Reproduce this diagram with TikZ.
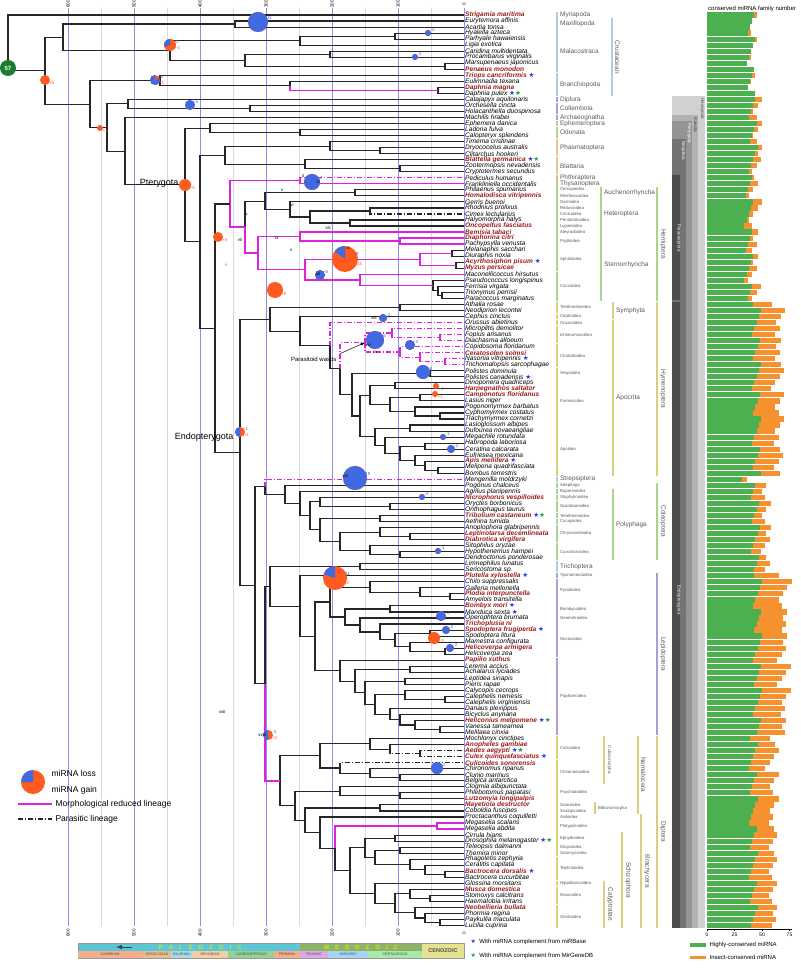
\documentclass[tikz,border=0pt]{standalone}
\usepackage{fontspec}
\setmainfont{Liberation Sans}
\newfontfamily\symf{DejaVu Sans}
\usetikzlibrary{calc}

\definecolor{lossblue}{HTML}{4169E1}
\definecolor{gainor}{HTML}{FF5A1F}
\definecolor{morphmag}{HTML}{DD22DD}
\definecolor{redsp}{HTML}{9B1B1B}
\definecolor{hcgreen}{HTML}{4CAF50}
\definecolor{icorange}{HTML}{F5922F}
\definecolor{gridpur}{HTML}{8E8EE6}
\definecolor{starblue}{HTML}{1F3FE0}
\definecolor{stargreen}{HTML}{1E9E3A}
\definecolor{cblue}{HTML}{A9CFE8}
\definecolor{cpurple}{HTML}{A0A0DE}
\definecolor{cviolet}{HTML}{B49EDC}
\definecolor{colive}{HTML}{B8CF94}
\definecolor{ctan}{HTML}{EEC68C}
\definecolor{ckhaki}{HTML}{CBC491}
\definecolor{cgreen}{HTML}{A6D58E}
\definecolor{cyellow}{HTML}{D8D17A}
\definecolor{clep}{HTML}{B09AD8}
\definecolor{paleo}{HTML}{5CC6D6}
\definecolor{meso}{HTML}{8DB366}
\definecolor{ceno}{HTML}{E6E290}
\definecolor{camb}{HTML}{F5AD8C}
\definecolor{ordo}{HTML}{E9BC8C}
\definecolor{silu}{HTML}{A8D8E2}
\definecolor{devo}{HTML}{F3CDA3}
\definecolor{carb}{HTML}{93D493}
\definecolor{perm}{HTML}{F5AD8C}
\definecolor{tria}{HTML}{DDAAE8}
\definecolor{jura}{HTML}{A8D4F2}
\definecolor{cret}{HTML}{A8E8A8}

\tikzset{
  br/.style={line width=1.1pt, black!85},
  morph/.style={line width=1.3pt, morphmag},
  para/.style={line width=1.1pt, black!85, dash pattern=on 5pt off 2pt on 1pt off 2pt},
  pm/.style={line width=1.3pt, morphmag, dash pattern=on 5pt off 2pt on 1pt off 2pt},
  sp/.style={font=\fontsize{6.6}{6.6}\selectfont\itshape, inner sep=1pt},
  rd/.style={font=\fontsize{6.6}{6.6}\selectfont\itshape\bfseries, text=redsp, inner sep=1pt},
  grid/.style={gridpur, line width=0.6pt},
  gridl/.style={black!15, line width=0.6pt},
  lossl/.style={font=\fontsize{4.5}{4.5}\selectfont, text=lossblue, inner sep=0.3pt},
  gainl/.style={font=\fontsize{4.5}{4.5}\selectfont, text=gainor, inner sep=0.3pt},
  catL/.style={anchor=west, font=\fontsize{6.5}{6.5}\selectfont, text=black!65, inner sep=0.5pt},
  catS/.style={anchor=west, font=\fontsize{4.3}{4.3}\selectfont, text=black!65, inner sep=0.5pt},
  catR/.style={anchor=south, rotate=-90, font=\fontsize{6.5}{6.5}\selectfont, text=black!65, inner sep=0.5pt},
  catRs/.style={anchor=south, rotate=-90, font=\fontsize{4.5}{4.5}\selectfont, text=black!65, inner sep=0.5pt},
  roman/.style={font=\fontsize{4.5}{4.5}\selectfont, inner sep=0.5pt},
  ticklab/.style={rotate=90, font=\fontsize{4.5}{4.5}\selectfont, inner sep=0.5pt},
  period/.style={font=\fontsize{3.6}{3.6}\selectfont, text=black!70, inner sep=0pt},
  era/.style={font=\fontsize{6}{6}\selectfont\bfseries, text=yellow!85!green, inner sep=0pt},
  legtxt/.style={font=\fontsize{6}{6}\selectfont, anchor=west, inner sep=0.5pt},
}

\newcommand\bst{{\symf\color{starblue}\upshape ★}}
\newcommand\gst{{\symf\color{stargreen}\upshape ★}}

% leaf: index, style, name
\newcommand\leaf[3]{%
  \pgfmathsetmacro\yy{-(15+6.03*(#1-1))}%
  \expandafter\xdef\csname ny@t#1\endcsname{\yy}%
  \node[#2, anchor=west] (t#1) at (464,\yy) {#3};}

% inner node: [style1][style2]{name}{x}{child1}{child2}
\NewDocumentCommand\inode{O{}O{}mmmm}{%
  \pgfmathsetmacro\yy{0.5*(\csname ny@#5\endcsname+\csname ny@#6\endcsname)}%
  \expandafter\xdef\csname ny@#3\endcsname{\yy}%
  \coordinate (#3) at (#4,\yy);
  \draw[br,#1] (#3) |- (#5);
  \draw[br,#2] (#3) |- (#6);}

% gain/loss pie: x, y(down), r, loss share, loss, gain
\newcommand\ev[6]{%
  \fill[gainor] (#1,-#2) circle (#3);
  \fill[lossblue] (#1,-#2) -- ++(90:#3) arc (90:{90+360*#4}:#3) -- cycle;
  \node[lossl, anchor=south west] at ({#1+#3*0.7},{-#2+#3*0.2}) {#5};
  \node[gainl, anchor=north west] at ({#1+#3*0.7},{-#2-#3*0.2}) {#6};}

% category bar: first, last, x, colour, text, style
\newcommand\cat[6]{%
  \pgfmathsetmacro\ya{\csname ny@t#1\endcsname+2.7}%
  \pgfmathsetmacro\yb{\csname ny@t#2\endcsname-2.7}%
  \fill[#4] (#3,\ya) rectangle ({#3+2.4},\yb);
  \node[#6] at ({#3+3.4},{(\ya+\yb)/2}) {#5};}

\begin{document}
\begin{tikzpicture}[x=1pt,y=1pt]
\useasboundingbox (0,0) rectangle (800,-968);

% time lines
\foreach \m in {50,150,...,550}
  \draw[gridl] ({464-0.66*\m},-8) -- ({464-0.66*\m},-926);
\foreach \m in {100,200,...,600}
  \draw[grid] ({464-0.66*\m},-8) -- ({464-0.66*\m},-926);
\draw[grid] (464,-8) -- (464,-926);
\foreach \m in {0,100,...,600}{
  \node[ticklab] at ({464-0.66*\m},-4) {\m};
  \node[ticklab] at ({464-0.66*\m},-933) {\m};}

% taxa
\leaf{1}{rd}{Strigamia maritima}
\leaf{2}{sp}{Eurytemora affinis}
\leaf{3}{sp}{Acartia tonsa}
\leaf{4}{sp}{Hyalella azteca}
\leaf{5}{sp}{Parhyale hawaiensis}
\leaf{6}{sp}{Ligia exotica}
\leaf{7}{sp}{Caridina multidentata}
\leaf{8}{sp}{Procambarus virginalis}
\leaf{9}{sp}{Marsupenaeus japonicus}
\leaf{10}{rd}{Penaeus monodon}
\leaf{11}{rd}{Triops cancriformis \bst}
\leaf{12}{sp}{Eulimnadia texana}
\leaf{13}{rd}{Daphnia magna}
\leaf{14}{sp}{Daphnia pulex \bst\gst}
\leaf{15}{sp}{Catajapyx aquilonaris}
\leaf{16}{sp}{Orchesella cincta}
\leaf{17}{sp}{Holacanthella duospinosa}
\leaf{18}{sp}{Machilis hrabei}
\leaf{19}{sp}{Ephemera danica}
\leaf{20}{sp}{Ladona fulva}
\leaf{21}{sp}{Calopteryx splendens}
\leaf{22}{sp}{Timema cristinae}
\leaf{23}{sp}{Dryococelus australis}
\leaf{24}{sp}{Clitarchus hookeri}
\leaf{25}{rd}{Blattella germanica \bst\gst}
\leaf{26}{sp}{Zootermopsis nevadensis}
\leaf{27}{sp}{Cryptotermes secundus}
\leaf{28}{sp}{Pediculus humanus}
\leaf{29}{sp}{Frankliniella occidentalis}
\leaf{30}{sp}{Philaenus spumarius}
\leaf{31}{rd}{Homalodisca vitripennis}
\leaf{32}{sp}{Gerris buenoi}
\leaf{33}{sp}{Rhodnius prolixus}
\leaf{34}{sp}{Cimex lectularius}
\leaf{35}{sp}{Halyomorpha halys}
\leaf{36}{rd}{Oncopeltus fasciatus}
\leaf{37}{rd}{Bemisia tabaci}
\leaf{38}{rd}{Diaphorina citri}
\leaf{39}{sp}{Pachypsylla venusta}
\leaf{40}{sp}{Melanaphis sacchari}
\leaf{41}{sp}{Diuraphis noxia}
\leaf{42}{rd}{Acyrthosiphon pisum \bst}
\leaf{43}{rd}{Myzus persicae}
\leaf{44}{sp}{Maconellicoccus hirsutus}
\leaf{45}{sp}{Pseudococcus longispinus}
\leaf{46}{sp}{Ferrisia virgata}
\leaf{47}{sp}{Trionymus perrisii}
\leaf{48}{sp}{Paracoccus marginatus}
\leaf{49}{sp}{Athalia rosae}
\leaf{50}{sp}{Neodiprion lecontei}
\leaf{51}{sp}{Cephus cinctus}
\leaf{52}{sp}{Orussus abietinus}
\leaf{53}{sp}{Microplitis demolitor}
\leaf{54}{sp}{Fopius arisanus}
\leaf{55}{sp}{Diachasma alloeum}
\leaf{56}{sp}{Copidosoma floridanum}
\leaf{57}{rd}{Ceratosolen solmsi}
\leaf{58}{sp}{Nasonia vitripennis \bst}
\leaf{59}{sp}{Trichomalopsis sarcophagae}
\leaf{60}{sp}{Polistes dominula}
\leaf{61}{sp}{Polistes canadensis \bst}
\leaf{62}{sp}{Dinoponera quadriceps}
\leaf{63}{rd}{Harpegnathos saltator}
\leaf{64}{rd}{Camponotus floridanus}
\leaf{65}{sp}{Lasius niger}
\leaf{66}{sp}{Pogonomyrmex barbatus}
\leaf{67}{sp}{Cyphomyrmex costatus}
\leaf{68}{sp}{Trachymyrmex cornetzi}
\leaf{69}{sp}{Lasioglossum albipes}
\leaf{70}{sp}{Dufourea novaeangliae}
\leaf{71}{sp}{Megachile rotundata}
\leaf{72}{sp}{Habropoda laboriosa}
\leaf{73}{sp}{Ceratina calcarata}
\leaf{74}{sp}{Eufriesea mexicana}
\leaf{75}{rd}{Apis mellifera \bst}
\leaf{76}{sp}{Melipona quadrifasciata}
\leaf{77}{sp}{Bombus terrestris}
\leaf{78}{sp}{Mengenilla moldrzyki}
\leaf{79}{sp}{Pogonus chalceus}
\leaf{80}{sp}{Agrilus planipennis}
\leaf{81}{rd}{Nicrophorus vespilloides}
\leaf{82}{sp}{Oryctes borbonicus}
\leaf{83}{sp}{Onthophagus taurus}
\leaf{84}{rd}{Tribolium castaneum \bst\gst}
\leaf{85}{sp}{Aethina tumida}
\leaf{86}{sp}{Anoplophora glabripennis}
\leaf{87}{rd}{Leptinotarsa decemlineata}
\leaf{88}{rd}{Diabrotica virgifera}
\leaf{89}{sp}{Sitophilus oryzae}
\leaf{90}{sp}{Hypothenemus hampei}
\leaf{91}{sp}{Dendroctonus ponderosae}
\leaf{92}{sp}{Limnephilus lunatus}
\leaf{93}{sp}{Sericostoma sp.}
\leaf{94}{rd}{Plutella xylostella \bst}
\leaf{95}{sp}{Chilo suppressalis}
\leaf{96}{sp}{Galleria mellonella}
\leaf{97}{rd}{Plodia interpunctella}
\leaf{98}{sp}{Amyelois transitella}
\leaf{99}{rd}{Bombyx mori \bst}
\leaf{100}{sp}{Manduca sexta \bst}
\leaf{101}{sp}{Operophtera brumata}
\leaf{102}{rd}{Trichoplusia ni}
\leaf{103}{rd}{Spodoptera frugiperda \bst}
\leaf{104}{sp}{Spodoptera litura}
\leaf{105}{sp}{Mamestra configurata}
\leaf{106}{rd}{Helicoverpa armigera}
\leaf{107}{sp}{Helicoverpa zea}
\leaf{108}{rd}{Papilio xuthus}
\leaf{109}{sp}{Lerema accius}
\leaf{110}{sp}{Achalarus lyciades}
\leaf{111}{sp}{Leptidea sinapis}
\leaf{112}{sp}{Pieris rapae}
\leaf{113}{sp}{Calycopis cecrops}
\leaf{114}{sp}{Calephelis nemesis}
\leaf{115}{sp}{Calephelis virginiensis}
\leaf{116}{sp}{Danaus plexippus}
\leaf{117}{sp}{Bicyclus anynana}
\leaf{118}{rd}{Heliconius melpomene \bst\gst}
\leaf{119}{sp}{Vanessa tameamea}
\leaf{120}{sp}{Melitaea cinxia}
\leaf{121}{sp}{Mochlonyx cinctipes}
\leaf{122}{rd}{Anopheles gambiae}
\leaf{123}{rd}{Aedes aegypti \bst\gst}
\leaf{124}{rd}{Culex quinquefasciatus \bst}
\leaf{125}{rd}{Culicoides sonorensis}
\leaf{126}{sp}{Chironomus riparius}
\leaf{127}{sp}{Clunio marinus}
\leaf{128}{sp}{Belgica antarctica}
\leaf{129}{sp}{Clogmia albipunctata}
\leaf{130}{sp}{Phlebotomus papatasi}
\leaf{131}{rd}{Lutzomyia longipalpis}
\leaf{132}{rd}{Mayetiola destructor}
\leaf{133}{sp}{Coboldia fuscipes}
\leaf{134}{sp}{Proctacanthus coquilletti}
\leaf{135}{sp}{Megaselia scalaris}
\leaf{136}{sp}{Megaselia abdita}
\leaf{137}{sp}{Cirrula hians}
\leaf{138}{sp}{Drosophila melanogaster \bst\gst}
\leaf{139}{sp}{Teleopsis dalmanni}
\leaf{140}{sp}{Themira minor}
\leaf{141}{sp}{Rhagoletis zephyria}
\leaf{142}{sp}{Ceratitis capitata}
\leaf{143}{rd}{Bactrocera dorsalis \bst}
\leaf{144}{sp}{Bactrocera cucurbitae}
\leaf{145}{sp}{Glossina morsitans}
\leaf{146}{rd}{Musca domestica}
\leaf{147}{sp}{Stomoxys calcitrans}
\leaf{148}{sp}{Haematobia irritans}
\leaf{149}{rd}{Neobellieria bullata}
\leaf{150}{sp}{Phormia regina}
\leaf{151}{sp}{Paykullia maculata}
\leaf{152}{sp}{Lucilia cuprina}

% crustaceans
\inode{pen}{445}{t9}{t10}
\inode{dec2}{330}{t7}{t8}
\inode{dec}{245}{dec2}{pen}
\inode{amp}{395}{t4}{t5}
\inode{per}{300}{amp}{t6}
\inode{mal}{170}{per}{dec}
\inode{cop}{235}{t2}{t3}
\inode{mcr}{63}{cop}{mal}
\inode{dap}{438}{t13}{t14}
\inode[][morph]{dip}{290}{t12}{dap}
\inode{bra}{160}{t11}{dip}
% basal hexapods and polyneoptera
\inode{col}{250}{t16}{t17}
\inode{ent}{128}{t15}{col}
\inode{odo}{300}{t20}{t21}
\inode{pal}{210}{t19}{odo}
\inode{pha2}{380}{t23}{t24}
\inode{pha}{330}{t22}{pha2}
\inode{ter}{400}{t26}{t27}
\inode{bla}{305}{t25}{ter}
\inode{pol}{225}{pha}{bla}
% paraneoptera
\inode[pm][morph]{psth}{300}{t28}{t29}
\inode{auc}{355}{t30}{t31}
\inode[][para]{cim}{370}{t33}{t34}
\inode{pen2}{350}{t35}{t36}
\inode{het2}{310}{cim}{pen2}
\inode{het}{290}{t32}{het2}
\inode{euh}{265}{auc}{het}
\inode[morph][morph]{psy}{400}{t38}{t39}
\inode[morph][morph]{alp}{300}{t37}{psy}
\inode{aph1}{452}{t40}{t41}
\inode{aph2}{456}{t42}{t43}
\inode[morph][morph]{aph}{420}{aph1}{aph2}
\inode{coc4}{442}{t47}{t48}
\inode{coc3}{438}{t46}{coc4}
\inode{coc2}{433}{t45}{coc3}
\inode[morph][morph]{coc}{360}{t44}{coc2}
\inode[morph][morph]{apc}{305}{aph}{coc}
\inode[morph][morph]{ste}{258}{alp}{apc}
\inode[][morph]{hem}{245}{euh}{ste}
\inode[morph][morph]{par}{230}{psth}{hem}
% hymenoptera
\inode{ten}{400}{t49}{t50}
\inode[pm][pm]{ich2}{440}{t54}{t55}
\inode[pm][pm]{ich}{392}{t53}{ich2}
\inode[pm][pm]{cha3}{445}{t58}{t59}
\inode[pm][pm]{cha2}{420}{t57}{cha3}
\inode[pm][pm]{cha}{400}{t56}{cha2}
\inode[pm][pm]{prs}{365}{ich}{cha}
\inode{ves}{430}{t60}{t61}
\inode{pon}{395}{t62}{t63}
\inode{frm}{420}{t64}{t65}
\inode{myr2}{440}{t67}{t68}
\inode{myr}{415}{t66}{myr2}
\inode{fm}{390}{frm}{myr}
\inode{ant}{370}{pon}{fm}
\inode{hal}{410}{t69}{t70}
\inode{api1}{425}{t72}{t73}
\inode{cor2}{438}{t76}{t77}
\inode{cor1}{425}{t75}{cor2}
\inode{cor}{415}{t74}{cor1}
\inode{apd}{400}{api1}{cor}
\inode{meg}{385}{t71}{apd}
\inode{bee}{375}{hal}{meg}
\inode{ab}{360}{ant}{bee}
\inode{acu}{352}{ves}{ab}
\inode[pm]{apo}{340}{prs}{acu}
\inode[pm]{ves0}{330}{t52}{apo}
\inode{uni}{300}{t51}{ves0}
\inode{hym}{270}{ten}{uni}
% coleopterida
\inode{sca}{390}{t82}{t83}
\inode{sta}{320}{t81}{sca}
\inode{cuc}{380}{t84}{t85}
\inode{chr2}{410}{t87}{t88}
\inode{chr}{380}{t86}{chr2}
\inode{cur2}{400}{t90}{t91}
\inode{cur}{370}{t89}{cur2}
\inode{phy}{340}{chr}{cur}
\inode{cuj}{320}{cuc}{phy}
\inode{ely}{310}{sta}{cuj}
\inode{pol2}{300}{t80}{ely}
\inode{cole}{285}{t79}{pol2}
\inode[pm]{cold}{265}{t78}{cole}
% amphiesmenoptera
\inode{tri}{360}{t92}{t93}
\inode{pyr2}{450}{t97}{t98}
\inode{pyr1}{420}{t96}{pyr2}
\inode{pyr}{370}{t95}{pyr1}
\inode{bom}{390}{t99}{t100}
\inode{hel}{445}{t106}{t107}
\inode{noc3}{410}{t105}{hel}
\inode{spo}{430}{t103}{t104}
\inode{noc2}{395}{spo}{noc3}
\inode{noc}{380}{t102}{noc2}
\inode{geo}{360}{t101}{noc}
\inode{mac}{345}{bom}{geo}
\inode{obt}{330}{pyr}{mac}
\inode{hes}{410}{t109}{t110}
\inode{pie}{405}{t111}{t112}
\inode{rio}{445}{t114}{t115}
\inode{lyc}{405}{t113}{rio}
\inode{nym3}{440}{t119}{t120}
\inode{nym2}{415}{t118}{nym3}
\inode{nym1}{400}{t117}{nym2}
\inode{nym}{390}{t116}{nym1}
\inode{ln}{375}{lyc}{nym}
\inode{pln}{365}{pie}{ln}
\inode{hpl}{355}{hes}{pln}
\inode{pap}{340}{t108}{hpl}
\inode{ditr}{315}{obt}{pap}
\inode{lep}{300}{t94}{ditr}
\inode{amph}{270}{tri}{lep}
% diptera
\inode[para][para]{cul3}{420}{t123}{t124}
\inode[][para]{cul2}{390}{t122}{cul3}
\inode{cul}{370}{t121}{cul2}
\inode{chi2}{400}{t127}{t128}
\inode{chi1}{370}{t126}{chi2}
\inode[para]{chi}{340}{t125}{chi1}
\inode{culm}{320}{cul}{chi}
\inode{psy2}{400}{t130}{t131}
\inode{psd}{340}{t129}{psy2}
\inode{bib}{380}{t132}{t133}
\inode[morph][morph]{phor}{437}{t135}{t136}
\inode{ephy}{395}{t137}{t138}
\inode{dio}{400}{t139}{t140}
\inode{tep2}{445}{t143}{t144}
\inode{tep1}{425}{t142}{tep2}
\inode{tep}{410}{t141}{tep1}
\inode{dt}{375}{dio}{tep}
\inode{aca}{365}{ephy}{dt}
\inode{mus2}{430}{t147}{t148}
\inode{mus}{410}{t146}{mus2}
\inode{oes3}{440}{t151}{t152}
\inode{oes2}{425}{t150}{oes3}
\inode{oes}{415}{t149}{oes2}
\inode{mo}{395}{mus}{oes}
\inode{cal}{375}{t145}{mo}
\inode{sch}{350}{aca}{cal}
\inode[morph]{ere}{335}{phor}{sch}
\inode{bra2}{320}{t134}{ere}
\inode{bb}{305}{bib}{bra2}
\inode{pbb}{295}{psd}{bb}
\inode{dipt}{280}{culm}{pbb}
% backbone
\inode[][morph]{mec}{265}{amph}{dipt}
\inode{apa}{255}{cold}{mec}
\inode{hol}{240}{hym}{apa}
\inode{eum}{215}{par}{hol}
\inode{neo}{200}{pol}{eum}
\inode{pte}{185}{pal}{neo}
\inode{ins}{125}{t18}{pte}
\inode{hex}{107}{ent}{ins}
\inode{all}{90}{bra}{hex}
\inode{pan}{45}{mcr}{all}
\inode{root}{8}{t1}{pan}

% gains and losses
\fill[stargreen!80!black] (8,-68) circle (8);
\node[font=\fontsize{6}{6}\selectfont\bfseries, text=white] (rootn) at (8,-68) {57};
\ev{45}{80}{5}{0}{}{+5}
\ev{258}{22}{10}{1}{-11}{}
\ev{170}{45}{6}{0.3}{-2}{+4}
\ev{428}{33}{3}{1}{-2}{}
\ev{415}{57}{3}{1}{-2}{}
\ev{155}{80}{5}{0.8}{-5}{+1}
\ev{190}{105}{5}{1}{-5}{}
\ev{100}{128}{3}{0}{}{+1}
\ev{185}{185}{6}{0}{}{+5}
\ev{312}{182}{8}{1}{-3}{}
\ev{218}{237}{5}{0}{}{+3}
\ev{345}{259}{13}{0.15}{-3}{+15}
\ev{320}{275}{5}{1}{-6}{}
\ev{275}{290}{8}{0}{}{+9}
\ev{383}{318}{4}{1}{-1}{}
\ev{375}{340}{9}{1}{-6}{}
\ev{410}{345}{5}{1}{-3}{}
\ev{423}{372}{7}{1}{-8}{}
\ev{436}{386}{3}{0}{}{+1}
\ev{435}{394}{3}{0}{}{+1}
\ev{443}{437}{3}{1}{-1}{}
\ev{451}{449}{4}{1}{-2}{}
\ev{240}{432}{5}{0.5}{-1}{+1}
\ev{355}{478}{12}{1}{-19}{}
\ev{422}{497}{3}{1}{-2}{}
\ev{438}{551}{3}{1}{-1}{}
\ev{335}{578}{12}{0.2}{-11}{+2}
\ev{441}{616}{5}{1}{-3}{}
\ev{434}{638}{6}{0}{}{+3}
\ev{446}{630}{4}{1}{-2}{}
\ev{450}{648}{4}{1}{-2}{}
\ev{268}{735}{5}{0.5}{-3}{+2}
\ev{437}{768}{6}{1}{-2}{}

% lineage numbers
\node[roman] at (226,-265) {i};
\node[roman] at (303,-176) {ii};
\node[roman] at (318,-182) {iii};
\node[roman] at (246,-214) {iv};
\node[roman] at (282,-190) {v};
\node[roman] at (292,-205) {vi};
\node[roman] at (240,-240) {vii};
\node[roman] at (328,-228) {viii};
\node[roman] at (277,-238) {ix};
\node[roman] at (291,-250) {x};
\node[roman] at (348,-248) {xi};
\node[roman] at (318,-274) {xii};
\node[roman] at (374,-318) {xiii};
\node[roman] at (368,-345) {xiv};
\node[roman] at (375,-352) {xv};
\node[roman] at (345,-476) {xvi};
\node[roman] at (222,-712) {xvii};
\node[roman] at (262,-735) {xviii};

% clade labels
\node[font=\fontsize{9}{9}\selectfont, anchor=east] (ptl) at (182,-183) {Pterygota};
\node[font=\fontsize{9}{9}\selectfont, anchor=east] (enl) at (237,-437) {Endopterygota};
\node[font=\fontsize{6}{6}\selectfont, anchor=east] (pw) at (340,-360) {Parasitoid wasps};
\draw[-latex, line width=0.5pt] (pw.north east) -- (prs);

% right side groups
\cat{1}{1}{556}{cblue}{Myriapoda}{catL}
\cat{2}{3}{556}{cblue}{Maxillopoda}{catL}
\cat{4}{10}{556}{cblue}{Malacostraca}{catL}
\cat{11}{14}{556}{cblue}{Branchiopoda}{catL}
\cat{15}{15}{556}{cpurple}{Diplura}{catL}
\cat{16}{17}{556}{cpurple}{Collembola}{catL}
\cat{18}{18}{556}{cviolet}{Archaeognatha}{catL}
\cat{19}{19}{556}{colive}{Ephemeroptera}{catL}
\cat{20}{21}{556}{colive}{Odonata}{catL}
\cat{22}{24}{556}{ctan}{Phasmatoptera}{catL}
\cat{25}{27}{556}{ctan}{Blattaria}{catL}
\cat{28}{28}{556}{ckhaki}{Phthiraptera}{catL}
\cat{29}{29}{556}{ckhaki}{Thysanoptera}{catL}
\cat{30}{30}{556}{cgreen}{Cercopoidea}{catS}
\cat{31}{31}{556}{cgreen}{Membracoidea}{catS}
\cat{32}{32}{556}{cgreen}{Gerroidea}{catS}
\cat{33}{33}{556}{cgreen}{Reduvioidea}{catS}
\cat{34}{34}{556}{cgreen}{Cimicoidea}{catS}
\cat{35}{35}{556}{cgreen}{Pentatomoidea}{catS}
\cat{36}{36}{556}{cgreen}{Lygaeoidea}{catS}
\cat{37}{37}{556}{cgreen}{Aleyrodoidea}{catS}
\cat{38}{39}{556}{cgreen}{Psylloidea}{catS}
\cat{40}{43}{556}{cgreen}{Aphidoidea}{catS}
\cat{44}{48}{556}{cgreen}{Coccoidea}{catS}
\cat{49}{50}{556}{cyellow}{Tenthredinoidea}{catS}
\cat{51}{51}{556}{cyellow}{Cephoidea}{catS}
\cat{52}{52}{556}{cyellow}{Orussoidea}{catS}
\cat{53}{55}{556}{cyellow}{Ichneumonoidea}{catS}
\cat{56}{59}{556}{cyellow}{Chalcidoidea}{catS}
\cat{60}{61}{556}{cyellow}{Vespoidea}{catS}
\cat{62}{68}{556}{cyellow}{Formicoidea}{catS}
\cat{69}{77}{556}{cyellow}{Apoidea}{catS}
\cat{78}{78}{556}{cblue}{Strepsiptera}{catL}
\cat{79}{79}{556}{cgreen}{Adephaga}{catS}
\cat{80}{80}{556}{cgreen}{Buprestoidea}{catS}
\cat{81}{81}{556}{cgreen}{Staphylinoidea}{catS}
\cat{82}{83}{556}{cgreen}{Scarabaeoidea}{catS}
\cat{84}{84}{556}{cgreen}{Tenebrionoidea}{catS}
\cat{85}{85}{556}{cgreen}{Cucujoidea}{catS}
\cat{86}{88}{556}{cgreen}{Chrysomeloidea}{catS}
\cat{89}{91}{556}{cgreen}{Curculionoidea}{catS}
\cat{92}{93}{556}{cblue}{Trichoptera}{catL}
\cat{94}{94}{556}{clep}{Yponomeutoidea}{catS}
\cat{95}{98}{556}{clep}{Pyraloidea}{catS}
\cat{99}{100}{556}{clep}{Bombycoidea}{catS}
\cat{101}{101}{556}{clep}{Geometroidea}{catS}
\cat{102}{107}{556}{clep}{Noctuoidea}{catS}
\cat{108}{120}{556}{clep}{Papilionoidea}{catS}
\cat{121}{124}{556}{cyellow}{Culicoidea}{catS}
\cat{125}{128}{556}{cyellow}{Chironomoidea}{catS}
\cat{129}{131}{556}{cyellow}{Psychodoidea}{catS}
\cat{132}{132}{556}{cyellow}{Sciaroidea}{catS}
\cat{133}{133}{556}{cyellow}{Scatopsoidea}{catS}
\cat{134}{134}{556}{cyellow}{Asiloidea}{catS}
\cat{135}{136}{556}{cyellow}{Platypezoidea}{catS}
\cat{137}{138}{556}{cyellow}{Ephydroidea}{catS}
\cat{139}{139}{556}{cyellow}{Diopsoidea}{catS}
\cat{140}{140}{556}{cyellow}{Sciomyzoidea}{catS}
\cat{141}{144}{556}{cyellow}{Tephritoidea}{catS}
\cat{145}{145}{556}{cyellow}{Hippoboscoidea}{catS}
\cat{146}{148}{556}{cyellow}{Muscoidea}{catS}
\cat{149}{152}{556}{cyellow}{Oestroidea}{catS}
% second and third columns
\cat{2}{14}{611}{cblue}{Crustacean}{catR}
\cat{30}{31}{600}{cgreen}{Auchenorrhyncha}{catL}
\cat{32}{36}{600}{cgreen}{Heteroptera}{catL}
\cat{37}{48}{600}{cgreen}{Sternorrhyncha}{catL}
\cat{49}{51}{612}{cyellow}{Symphyta}{catL}
\cat{52}{77}{612}{cyellow}{Apocrita}{catL}
\cat{80}{91}{612}{cgreen}{Polyphaga}{catL}
\cat{121}{128}{603}{cyellow}{Culicomorpha}{catRs}
\cat{132}{133}{594}{cyellow}{Bibionomorpha}{catS}
\cat{137}{152}{621}{cyellow}{Schizophora}{catR}
\cat{145}{152}{603}{cyellow}{Calyptratae}{catR}
\cat{121}{133}{637}{cyellow}{Nematocera}{catR}
\cat{134}{152}{640}{cyellow}{Brachycera}{catR}
\cat{30}{48}{656}{cgreen}{Hemiptera}{catR}
\cat{49}{77}{656}{cyellow}{Hymenoptera}{catR}
\cat{79}{91}{656}{cgreen}{Coleoptera}{catR}
\cat{94}{120}{656}{clep}{Lepidoptera}{catR}
\cat{121}{152}{656}{cyellow}{Diptera}{catR}

% grey rank columns
\fill[black!18] (672,-96) rectangle (705,-928);
\fill[black!30] (672,-115) rectangle (698,-928);
\fill[black!42] (672,-121) rectangle (692,-928);
\fill[black!55] (672,-139) rectangle (686,-928);
\fill[black!70] (672,-175) rectangle (680,-300);
\fill[black!70] (672,-302) rectangle (680,-928);
\node[catRs, text=black!70, anchor=north west] at (705,-98) {Hexapoda};
\node[catRs, text=black!75, anchor=north west] at (698,-117) {Insecta};
\node[catRs, text=white, anchor=north west] at (692,-123) {Pterygota};
\node[catRs, text=white, anchor=north west] at (686,-141) {Neoptera};
\node[catRs, text=white] at (676,-238) {Paraneoptera};
\node[catRs, text=white] at (676,-600) {Endopterygota};

% miRNA bars
\node[font=\fontsize{6}{6}\selectfont] (bt) at (752,-9) {conserved miRNA family number};
\foreach \i in {1,...,152}{
  \pgfmathsetmacro\by{\csname ny@t\i\endcsname}
  \pgfmathsetmacro\hc{((\i<15)?40:((\i<28)?42:((\i<49)?38:((\i<78)?45:((\i<79)?30:((\i<94)?44:((\i<121)?46:42)))))))+mod(\i*7,9)-4}
  \pgfmathsetmacro\ic{max(0,((\i<15)?0:((\i<28)?4:((\i<49)?5:((\i<78)?20:((\i<79)?2:((\i<94)?10:((\i<121)?24:18)))))))+mod(\i*5,7)-3)}
  \fill[hcgreen] (707,\by-2.6) rectangle ++({\hc*1.1},5.2);
  \fill[icorange] ({707+\hc*1.1},\by-2.6) rectangle ++({\ic*1.1},5.2);
}
\draw[line width=0.5pt] (707,-929) -- (792,-929);
\foreach \v in {0,25,50,75}{
  \draw[line width=0.5pt] ({707+1.1*\v},-929) -- ++(0,-2);
  \node[font=\fontsize{5}{5}\selectfont, inner sep=0.5pt] at ({707+1.1*\v},-934.5) {\v};}

% time scale
\fill[paleo] (78,-943) rectangle (300,-951);
\fill[meso] (300,-943) rectangle (422,-951);
\fill[ceno] (422,-943) rectangle (464,-958);
\draw[black!40, line width=0.3pt] (78,-943) rectangle (464,-958);
\node[era] at (200,-947) {P\quad A\quad L\quad E\quad O\quad Z\quad O\quad I\quad C};
\node[era] at (361,-947) {M\quad E\quad S\quad O\quad Z\quad O\quad I\quad C};
\node[font=\fontsize{5.5}{5.5}\selectfont\bfseries, text=black!70] at (443,-950.5) {CENOZOIC};
\draw[-latex, line width=1pt, black!75] (132,-947) -- (116,-947);
\fill[camb] (78,-951) rectangle (143,-958);
\fill[ordo] (143,-951) rectangle (171,-958);
\fill[silu] (171,-951) rectangle (192,-958);
\fill[devo] (192,-951) rectangle (228,-958);
\fill[carb] (228,-951) rectangle (274,-958);
\fill[perm] (274,-951) rectangle (300,-958);
\fill[tria] (300,-951) rectangle (328,-958);
\fill[jura] (328,-951) rectangle (368,-958);
\fill[cret] (368,-951) rectangle (422,-958);
\node[period] at (110,-954.5) {CAMBRIAN};
\node[period] at (157,-954.5) {ORDOVICIAN};
\node[period] at (181.5,-954.5) {SILURIAN};
\node[period] at (210,-954.5) {DEVONIAN};
\node[period] at (251,-954.5) {CARBONIFEROUS};
\node[period] at (287,-954.5) {PERMIAN};
\node[period] at (314,-954.5) {TRIASSIC};
\node[period] at (348,-954.5) {JURASSIC};
\node[period] at (395,-954.5) {CRETACEOUS};

% legends
\fill[gainor] (33,-782) circle (12);
\fill[lossblue] (33,-782) -- ++(90:12) arc (90:180:12) -- cycle;
\node[font=\fontsize{8.5}{8.5}\selectfont, anchor=west] (lgl) at (48,-773) {miRNA loss};
\node[font=\fontsize{8.5}{8.5}\selectfont, anchor=west] (lgg) at (48,-790) {miRNA gain};
\coordinate (lm1) at (18,-804);
\node[font=\fontsize{8.5}{8.5}\selectfont, anchor=west] (lgm) at (52,-804) {Morphological reduced lineage};
\draw[morph] (lm1) -- (lgm.west);
\coordinate (lp1) at (18,-819);
\node[font=\fontsize{8.5}{8.5}\selectfont, anchor=west] (lgp) at (52,-819) {Parasitic lineage};
\draw[para] (lp1) -- (lgp.west);
\node[legtxt] (lsb) at (470,-942) {\bst\ \ With miRNA complement from miRBase};
\node[legtxt] (lsg) at (470,-956) {\gst\ \ With miRNA complement from MirGeneDB};
\fill[hcgreen] (690,-943) rectangle (706,-946.5);
\node[legtxt] (lhc) at (709,-944.5) {Highly-conserved miRNA};
\fill[icorange] (690,-955.5) rectangle (706,-959);
\node[legtxt] (lic) at (709,-957) {Insect-conserved miRNA};
\end{tikzpicture}
\end{document}
